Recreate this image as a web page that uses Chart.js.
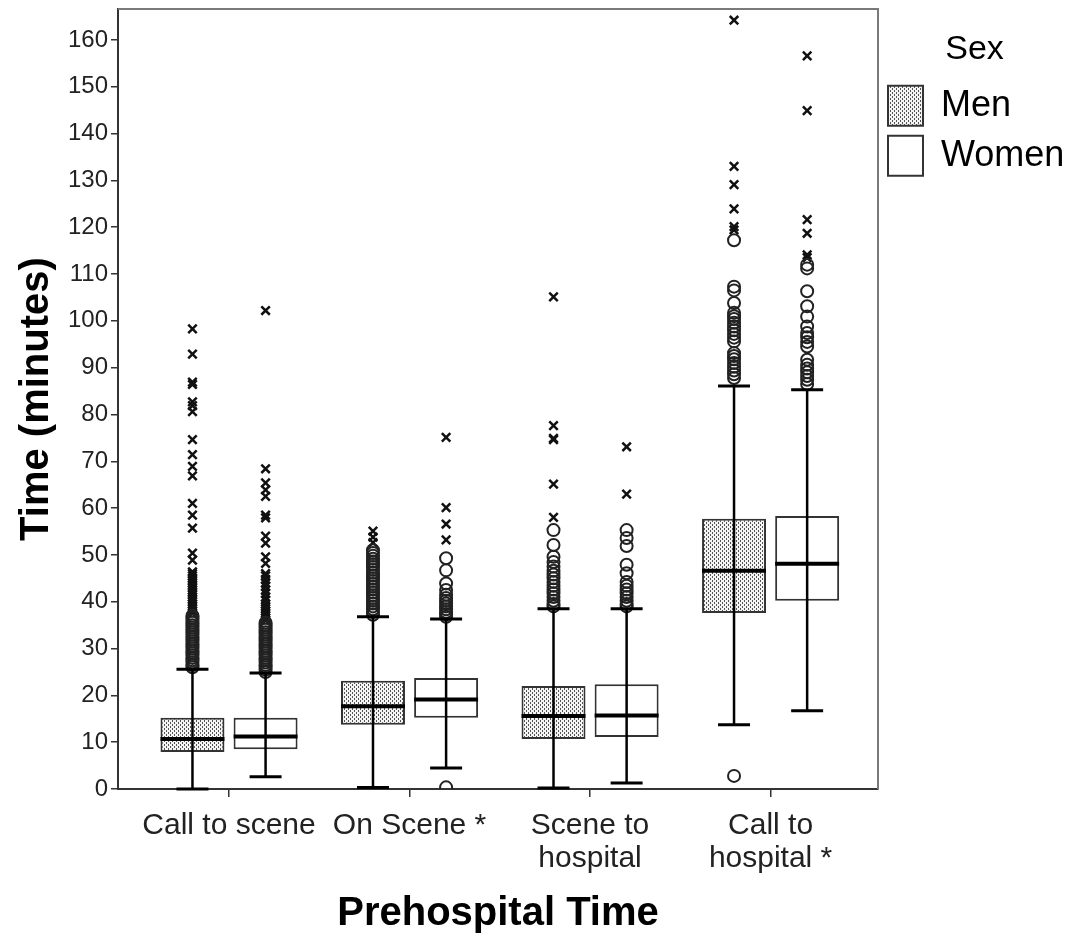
<!DOCTYPE html>
<html>
<head>
<meta charset="utf-8">
<script src="https://cdn.jsdelivr.net/npm/chart.js@4.4.1/dist/chart.umd.min.js"></script>
<style>
  html, body { margin: 0; padding: 0; background: #fff; }
  #wrap { width: 1071px; height: 938px; }
</style>
</head>
<body>
<div id="wrap"><canvas id="myChart"></canvas></div>
<script>
const categories = ['Call to scene', 'On Scene *', ['Scene to', 'hospital'], ['Call to', 'hospital *']];

// box statistics (minutes)
const menQ1 = [7.9, 13.7, 10.7, 37.6];
const menMedian = [10.7, 17.7, 15.6, 46.6];
const menQ3 = [15.2, 23.1, 22.0, 57.7];
const menLow = [0, 0.3, 0.2, 13.7];
const menHigh = [25.6, 36.8, 38.5, 86.1];

const womenQ1 = [8.5, 15.2, 11.1, 40.2];
const womenMedian = [11.2, 19.1, 15.7, 48.1];
const womenQ3 = [15.2, 23.7, 22.4, 58.3];
const womenLow = [2.6, 4.5, 1.3, 16.7];
const womenHigh = [24.8, 36.3, 38.5, 85.3];

// outliers (circles) and extremes (crosses), one list per category
const menCircles = [
    [26, 26.5, 27, 27.5, 28, 28.5, 29, 29.5, 30, 30.5, 31, 31.5, 32, 32.5, 33, 33.5, 34, 34.5, 35, 35.5, 36, 36.5, 37],
    [37.2, 37.8, 38.4, 39, 39.6, 40.2, 40.8, 41.4, 42, 42.6, 43.2, 43.8, 44.4, 45, 45.6, 46.2, 46.8, 47.4, 48, 48.6, 49.2, 49.8, 50.4, 51],
    [39, 39.5, 40.2, 41, 41.8, 42.6, 43.4, 44.2, 45, 45.8, 46.6, 47.5, 48.5, 49.6, 52.1, 55.3],
    [2.8, 87.8, 88.6, 89.4, 90.2, 91, 91.8, 92.5, 93.1, 95.6, 96.4, 97.2, 98, 98.8, 99.6, 100.4, 101, 101.7, 103.8, 106.5, 107.3, 117.2]
];
const menCrosses = [
    [37.5, 38, 38.5, 39, 39.5, 40, 40.5, 41, 41.5, 42, 42.5, 43, 43.5, 44, 44.5, 45, 45.5, 46, 46.4, 48.9, 50.4, 55.7, 58.5, 61, 66.9, 68.9, 71.4, 74.6, 80.6, 81.9, 82.7, 86.4, 86.9, 92.9, 98.3],
    [52.6, 53.8, 55.1],
    [58, 65.1, 74.6, 74.9, 77.6, 105.1],
    [119.4, 120.1, 123.9, 129.1, 133, 164.2]
];
const womenCircles = [
    [25, 25.5, 26, 26.5, 27, 27.5, 28, 28.5, 29, 29.5, 30, 30.5, 31, 31.5, 32, 32.5, 33, 33.5, 34, 34.5, 35, 35.5],
    [0.35, 36.8, 37.3, 37.8, 38.4, 39, 39.6, 40.2, 40.8, 41.5, 42.5, 43.9, 46.7, 49.3],
    [39, 39.5, 40.2, 41, 41.8, 42.6, 43.4, 44.2, 46.1, 47.9, 51.9, 53.6, 55.3],
    [86.5, 87.4, 88.2, 89, 89.8, 90.6, 91.7, 94.5, 95.5, 96.5, 97.4, 98.8, 100.9, 103.1, 106.3, 111.2, 112]
];
const womenCrosses = [
    [36, 36.5, 37, 37.5, 38, 38.5, 39, 39.5, 40.3, 41, 41.8, 42.5, 43.3, 44, 44.8, 45.5, 46, 48.2, 49.6, 52.5, 54, 57.9, 58.5, 62.5, 63.9, 65.4, 68.4, 102.2],
    [53.2, 56.6, 60.1, 75.1],
    [63, 73.1],
    [113.5, 114.1, 118.7, 121.6, 144.9, 156.6]
];

const yTicks = [0, 10, 20, 30, 40, 50, 60, 70, 80, 90, 100, 110, 120, 130, 140, 150, 160];

const CAT_PCT = 0.81;
const OFFSET = CAT_PCT / 4; // centre of each box inside its group
const FONT = "'Liberation Sans', Arial, sans-serif";

// dotted fill for the Men boxes
function dotPattern() {
    const tile = document.createElement('canvas');
    tile.width = 4;
    tile.height = 4;
    const t = tile.getContext('2d');
    t.fillStyle = '#f4f4f4';
    t.fillRect(0, 0, 4, 4);
    t.fillStyle = '#555';
    t.fillRect(0, 0, 1, 2);
    t.fillRect(2, 2, 1, 2);
    return t.createPattern(tile, 'repeat');
}

function points(lists, shift) {
    return lists.flatMap((vals, i) => vals.map(v => ({ x: i + shift, y: v })));
}

// whiskers, caps and medians on top of the boxes
const boxStats = {
    id: 'boxStats',
    afterDatasetsDraw(chart) {
        const { ctx } = chart;
        const y = chart.scales.y;
        const sets = [
            { meta: chart.getDatasetMeta(0), low: menLow, high: menHigh, med: menMedian },
            { meta: chart.getDatasetMeta(1), low: womenLow, high: womenHigh, med: womenMedian }
        ];
        ctx.save();
        ctx.strokeStyle = '#000';
        sets.forEach(s => {
            s.meta.data.forEach((bar, i) => {
                const half = bar.width / 2;
                const yl = y.getPixelForValue(s.low[i]);
                const yh = y.getPixelForValue(s.high[i]);
                const ym = y.getPixelForValue(s.med[i]);
                ctx.lineWidth = 2.5;
                ctx.beginPath();
                ctx.moveTo(bar.x, yl);
                ctx.lineTo(bar.x, yh);
                ctx.stroke();
                ctx.lineWidth = 3;
                ctx.beginPath();
                ctx.moveTo(bar.x - half / 2, yl);
                ctx.lineTo(bar.x + half / 2, yl);
                ctx.moveTo(bar.x - half / 2, yh);
                ctx.lineTo(bar.x + half / 2, yh);
                ctx.stroke();
                ctx.lineWidth = 4;
                ctx.beginPath();
                ctx.moveTo(bar.x - half, ym);
                ctx.lineTo(bar.x + half, ym);
                ctx.stroke();
            });
        });
        ctx.restore();
    }
};

// grey top and right edges of the plot frame
const frame = {
    id: 'frame',
    beforeDatasetsDraw(chart) {
        const { ctx, chartArea: a } = chart;
        ctx.save();
        ctx.strokeStyle = '#7a7a7a';
        ctx.lineWidth = 2;
        ctx.beginPath();
        ctx.moveTo(a.left, a.top);
        ctx.lineTo(a.right, a.top);
        ctx.lineTo(a.right, a.bottom);
        ctx.stroke();
        ctx.restore();
    }
};

const ctx = document.getElementById('myChart').getContext('2d');
new Chart(ctx, {
    type: 'bar',
    data: {
        datasets: [
            {
                label: 'Men',
                data: categories.map((c, i) => ({ x: i, y: [menQ1[i], menQ3[i]] })),
                backgroundColor: dotPattern(),
                borderColor: '#333',
                borderWidth: 2,
                borderSkipped: false
            },
            {
                label: 'Women',
                data: categories.map((c, i) => ({ x: i, y: [womenQ1[i], womenQ3[i]] })),
                backgroundColor: '#fff',
                borderColor: '#333',
                borderWidth: 2,
                borderSkipped: false
            },
            {
                type: 'scatter',
                label: 'men outliers',
                data: points(menCircles, -OFFSET),
                pointStyle: 'circle',
                pointRadius: 6,
                pointBorderWidth: 2,
                pointBorderColor: '#222',
                pointBackgroundColor: 'rgba(0,0,0,0)'
            },
            {
                type: 'scatter',
                label: 'men extremes',
                data: points(menCrosses, -OFFSET),
                pointStyle: 'crossRot',
                pointRadius: 6,
                pointBorderWidth: 2.5,
                pointBorderColor: '#111'
            },
            {
                type: 'scatter',
                label: 'women outliers',
                data: points(womenCircles, OFFSET),
                pointStyle: 'circle',
                pointRadius: 6,
                pointBorderWidth: 2,
                pointBorderColor: '#222',
                pointBackgroundColor: 'rgba(0,0,0,0)'
            },
            {
                type: 'scatter',
                label: 'women extremes',
                data: points(womenCrosses, OFFSET),
                pointStyle: 'crossRot',
                pointRadius: 6,
                pointBorderWidth: 2.5,
                pointBorderColor: '#111'
            }
        ]
    },
    options: {
        responsive: true,
        maintainAspectRatio: false,
        animation: false,
        events: [],
        categoryPercentage: CAT_PCT,
        barPercentage: 0.875,
        layout: { padding: { top: 9, right: 0 } },
        scales: {
            x: {
                type: 'linear',
                min: -0.615,
                max: 3.595,
                offset: false,
                afterBuildTicks: s => { s.ticks = categories.map((c, i) => ({ value: i })); },
                afterFit: s => { s.height = 149; s.paddingLeft = 0; s.paddingRight = 0; },
                ticks: {
                    callback: v => categories[v],
                    autoSkip: false,
                    maxRotation: 0,
                    padding: 12,
                    color: '#222',
                    font: { family: FONT, size: 30, lineHeight: 1.1 }
                },
                grid: { offset: false, drawOnChartArea: false, tickLength: 8, color: '#333', lineWidth: 1.5 },
                border: { color: '#333', width: 2 },
                title: {
                    display: true,
                    text: 'Prehospital Time',
                    color: '#000',
                    padding: { top: 4, bottom: 0 },
                    font: { family: FONT, size: 40, weight: 'bold' }
                }
            },
            y: {
                min: 0,
                max: 166.6,
                afterBuildTicks: s => { s.ticks = yTicks.map(v => ({ value: v })); },
                afterFit: s => { s.width = 118; s.paddingTop = 0; s.paddingBottom = 0; },
                ticks: {
                    padding: 3,
                    color: '#222',
                    font: { family: FONT, size: 24 }
                },
                grid: { drawOnChartArea: false, tickLength: 7, color: '#333', lineWidth: 1.5 },
                border: { color: '#333', width: 2 },
                title: {
                    display: true,
                    text: 'Time (minutes)',
                    color: '#000',
                    padding: { top: 13, bottom: 0 },
                    font: { family: FONT, size: 40, weight: 'bold' }
                }
            }
        },
        plugins: {
            tooltip: { enabled: false },
            legend: {
                position: 'right',
                align: 'start',
                maxWidth: 193,
                title: {
                    display: true,
                    text: 'Sex',
                    color: '#000',
                    padding: { top: 24, bottom: 2 },
                    font: { family: FONT, size: 34 }
                },
                labels: {
                    filter: item => item.datasetIndex < 2,
                    boxWidth: 35,
                    boxHeight: 40,
                    padding: 10,
                    color: '#000',
                    font: { family: FONT, size: 36 }
                }
            }
        }
    },
    plugins: [frame, boxStats]
});
</script>
</body>
</html>
